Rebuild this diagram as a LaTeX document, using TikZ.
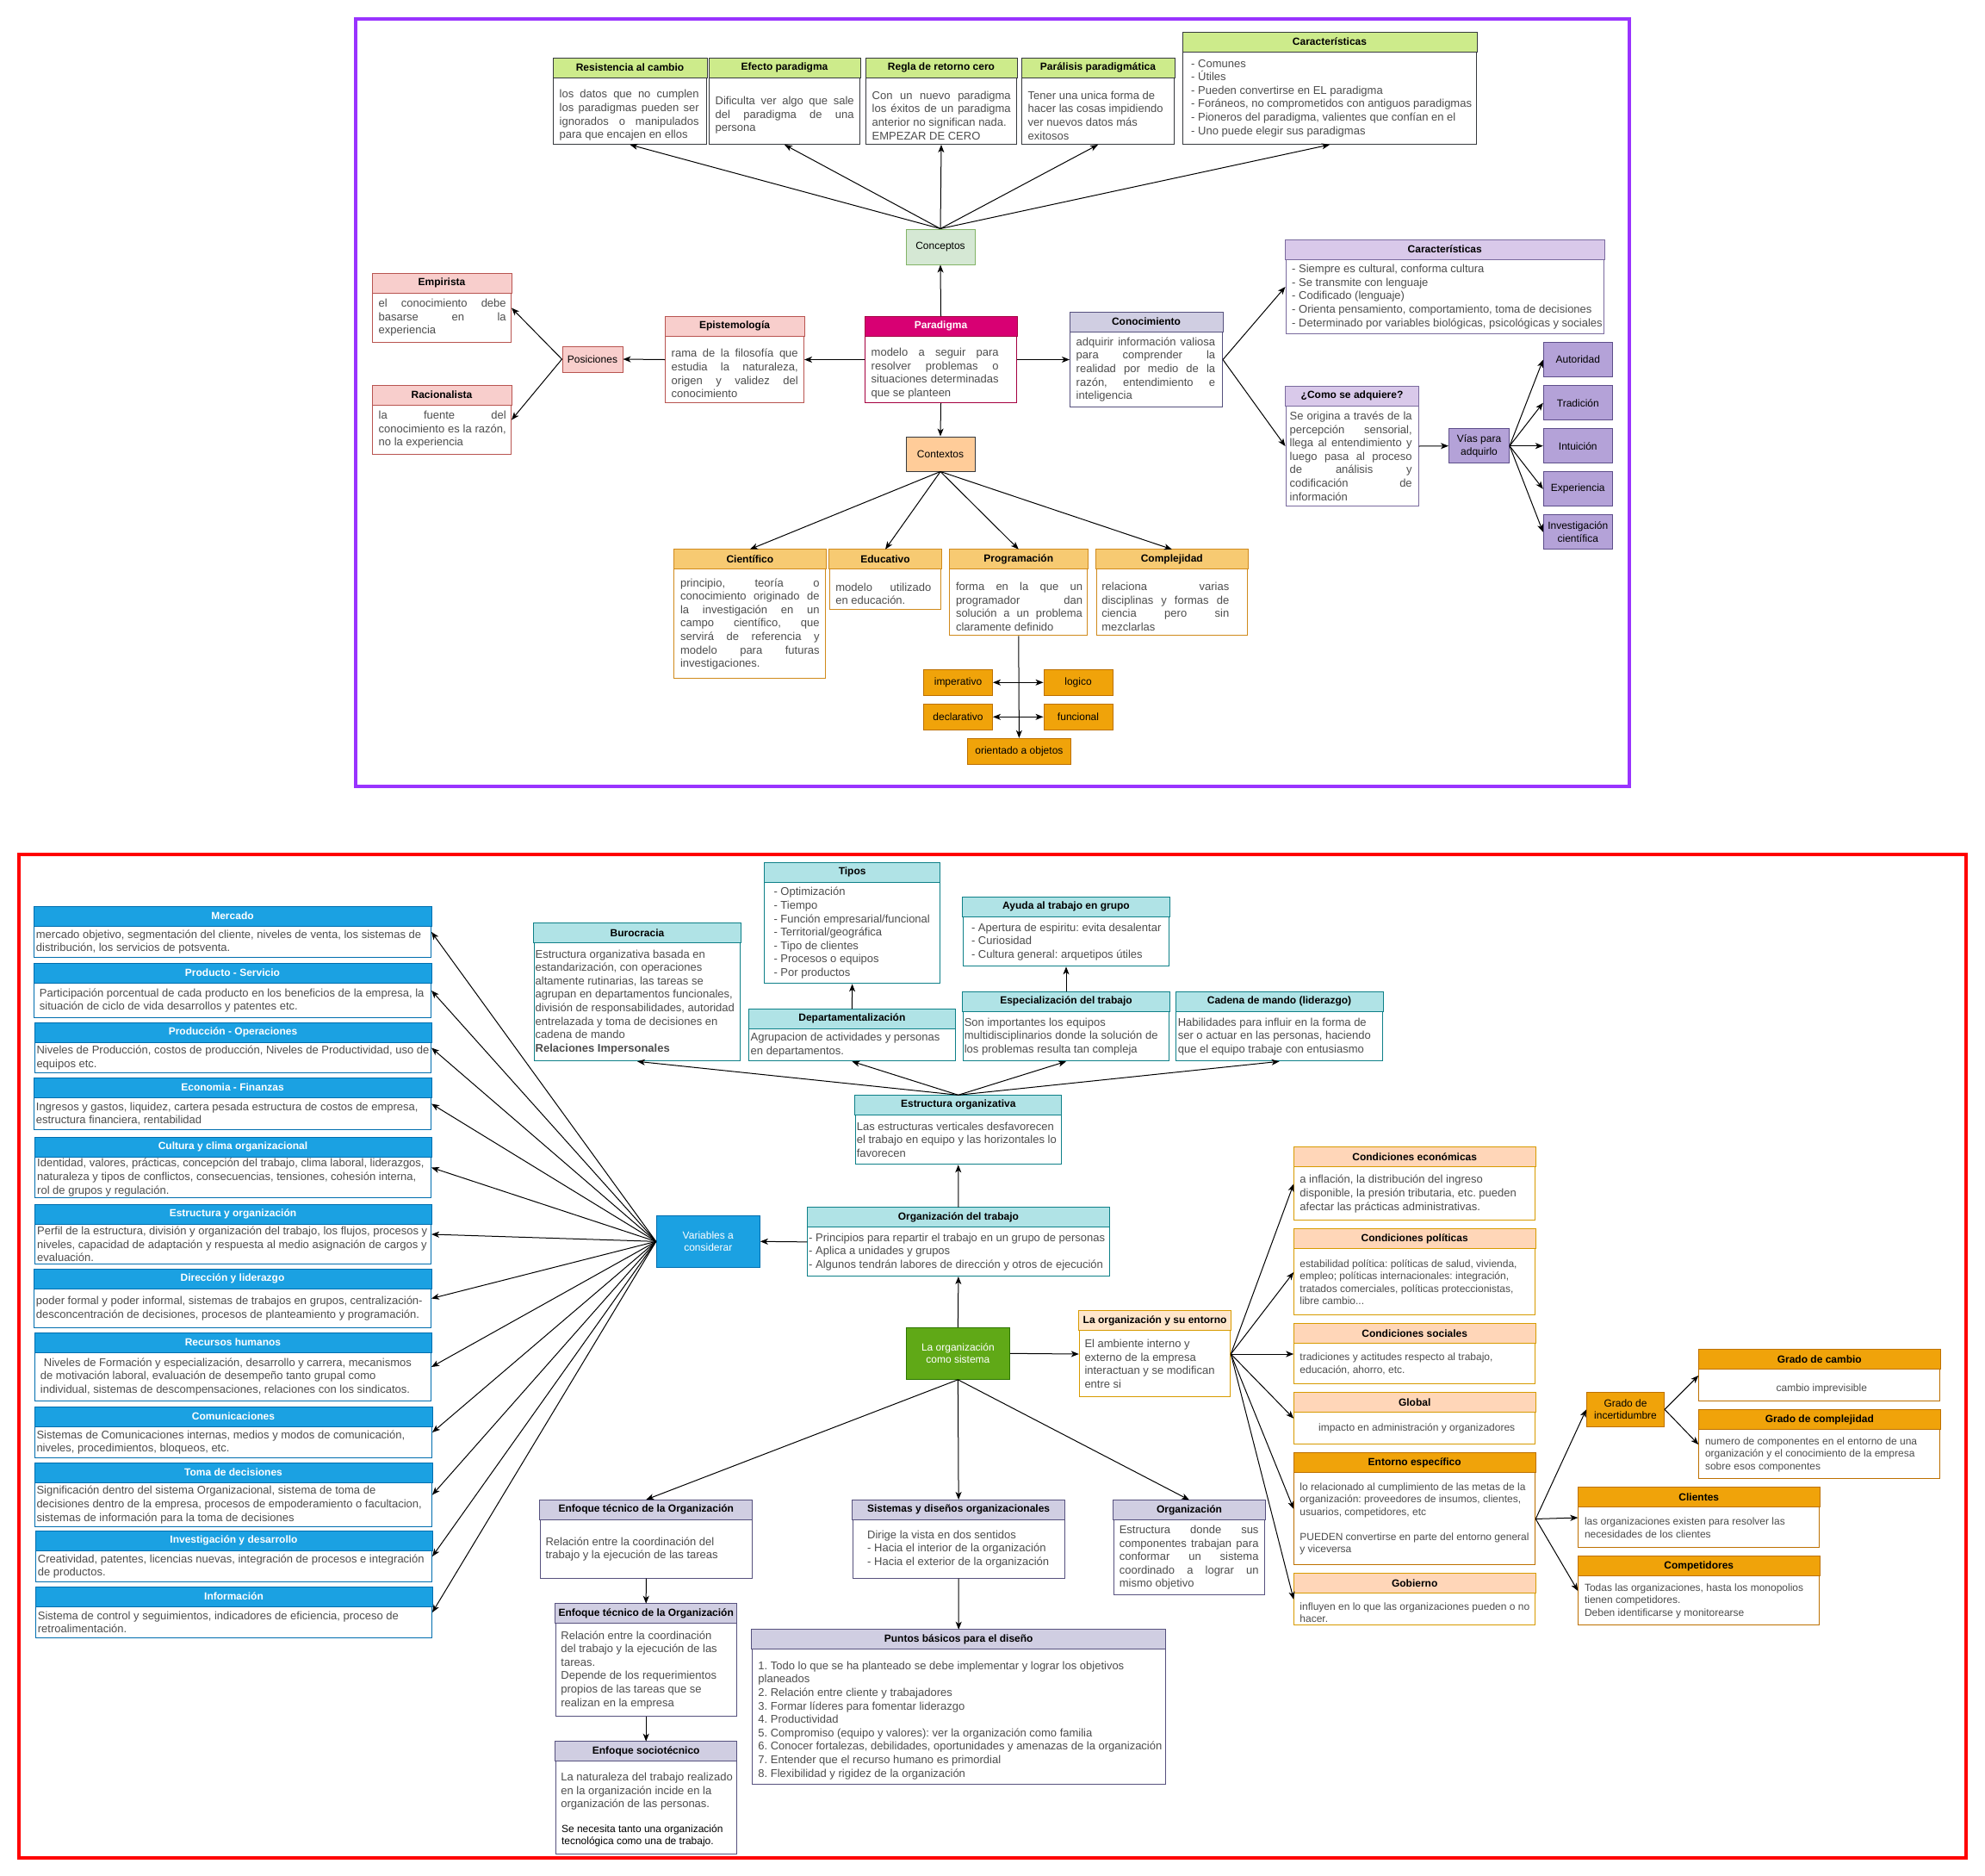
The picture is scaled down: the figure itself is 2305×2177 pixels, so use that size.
\documentclass[tikz,border=0pt]{standalone}
\usepackage{fontspec}
\setmainfont{Liberation Sans}
\usetikzlibrary{calc,arrows.meta}

\definecolor{bodygray}{HTML}{4D4D4D}
\definecolor{limeHead}{HTML}{CDEB8B}
\definecolor{darkLine}{HTML}{36393D}
\definecolor{roseHead}{HTML}{F8CECC}
\definecolor{roseLine}{HTML}{B85450}
\definecolor{magHead}{HTML}{D80073}
\definecolor{magLine}{HTML}{A50040}
\definecolor{slateHead}{HTML}{D0CEE2}
\definecolor{slateLine}{HTML}{56517E}
\definecolor{lilacHead}{HTML}{D9C9EA}
\definecolor{lilacLine}{HTML}{7A6A9E}
\definecolor{violetFill}{HTML}{B4A2D8}
\definecolor{violetLine}{HTML}{5D4E8A}
\definecolor{goldHead}{HTML}{F7CA72}
\definecolor{goldLine}{HTML}{D08A1C}
\definecolor{amberFill}{HTML}{F0A30A}
\definecolor{amberLine}{HTML}{BD7000}
\definecolor{peachHead}{HTML}{FFD6B8}
\definecolor{creamHead}{HTML}{FFE6CC}
\definecolor{orangeLine}{HTML}{D79B00}
\definecolor{blueFill}{HTML}{1BA1E2}
\definecolor{blueLine}{HTML}{006EAF}
\definecolor{tealHead}{HTML}{B0E3E6}
\definecolor{tealLine}{HTML}{0E8088}
\definecolor{mintFill}{HTML}{D5E8D4}
\definecolor{mintLine}{HTML}{82B366}
\definecolor{apricot}{HTML}{FFCC99}
\definecolor{leafFill}{HTML}{60A917}
\definecolor{leafLine}{HTML}{2D7600}
\definecolor{frameTop}{HTML}{9933FF}
\definecolor{frameBot}{HTML}{FF0000}

\tikzset{
  every node/.style={font=\fontsize{13}{15.6}\selectfont},
  tbframe/.style={draw, fill=white, inner sep=0pt, line width=1pt},
  tbtitle/.style={font=\bfseries\fontsize{12}{14}\selectfont, inner sep=0pt},
  tbbody/.style={inner sep=0pt, align=left, text=bodygray, anchor=west, xshift=7.5pt},
  jw/.code={\def\tbw{#1}},
  smalltext/.style={font=\fontsize{12}{14.4}\selectfont},
  sb/.style={line width=1pt, inner sep=0pt, align=center, font=\fontsize{12}{14.4}\selectfont},
  violet/.style={fill=violetFill, draw=violetLine},
  amberbox/.style={fill=amberFill, draw=amberLine},
  bluebox/.style={fill=blueFill, draw=blueLine, text=white},
  leafbox/.style={fill=leafFill, draw=leafLine, text=white},
  arr/.style={line width=1pt, -{Stealth[length=9pt, width=7pt, inset=2.5pt]}},
  dbl/.style={line width=1pt, {Stealth[length=9pt, width=7pt, inset=2.5pt]}-{Stealth[length=9pt, width=7pt, inset=2.5pt]}},
  lime frame/.style={draw=darkLine}, lime head/.style={fill=limeHead}, lime title/.style={},
  rose frame/.style={draw=roseLine}, rose head/.style={fill=roseHead}, rose title/.style={},
  mag frame/.style={draw=magLine}, mag head/.style={fill=magHead}, mag title/.style={text=white},
  slate frame/.style={draw=slateLine}, slate head/.style={fill=slateHead}, slate title/.style={},
  lilac frame/.style={draw=lilacLine}, lilac head/.style={fill=lilacHead}, lilac title/.style={},
  gold frame/.style={draw=goldLine}, gold head/.style={fill=goldHead}, gold title/.style={},
  peach frame/.style={draw=orangeLine}, peach head/.style={fill=peachHead}, peach title/.style={},
  cream frame/.style={draw=orangeLine}, cream head/.style={fill=creamHead}, cream title/.style={},
  amber frame/.style={draw=amberLine}, amber head/.style={fill=amberFill}, amber title/.style={},
  blue frame/.style={draw=blueLine}, blue head/.style={fill=blueFill}, blue title/.style={text=white},
  teal frame/.style={draw=tealLine}, teal head/.style={fill=tealHead}, teal title/.style={}
}

\newcommand\jl[1]{\makebox[\tbw pt][s]{#1}\\}
\newcommand\tbox[9][]{%
  \node[tbframe,#2 frame,minimum width=#6,minimum height=#7,anchor=north west] (#3) at (#4,#5) {};
  \draw[line width=1pt,#2 frame,#2 head] (#3.north west) rectangle ($(#3.north east)+(0,23)$);
  \node[tbtitle,#2 title] (#3-t) at ($(#3.north)+(0,11.5)$) {#8};
  \pgfmathsetmacro\tbw{#6-15}%
  \node[tbbody,#1] (#3-x) at ($(#3.west)+(0,11.5)$) {#9};
}

\begin{document}
\frenchspacing
\begin{tikzpicture}[x=1pt,y=-1pt]
  \fill[white] (0,0) rectangle (2305,2177);
  \useasboundingbox (0,0) rectangle (2305,2177);
  \draw[frameTop, line width=4pt] (413,22) rectangle (1892,913);
  \draw[frameBot, line width=4pt] (22,992) rectangle (2283,2157);

  \tbox[jw=162,yshift=-5pt]{lime}{res}{642}{67}{178}{100}{Resistencia al cambio}{\jl{los datos que no cumplen}\jl{los paradigmas pueden ser}\jl{ignorados o manipulados}para que encajen en ellos}
  \tbox[jw=161,yshift=-5pt]{lime}{efe}{823}{67}{175}{100}{Efecto paradigma}{\jl{Dificulta ver algo que sale}\jl{del paradigma de una}persona}
  \tbox[jw=161,yshift=-5pt]{lime}{reg}{1005}{67}{175}{100}{Regla de retorno cero}{\jl{Con un nuevo paradigma}\jl{los éxitos de un paradigma}anterior no significan nada.\\EMPEZAR DE CERO}
  \tbox[yshift=-5pt]{lime}{par}{1186}{67}{177}{100}{Parálisis paradigmática}{Tener una unica forma de\\hacer las cosas impidiendo\\ver nuevos datos más\\exitosos}
  \tbox[xshift=2.5pt]{lime}{carg}{1373}{37}{341}{130}{Características}{- Comunes\\- Útiles\\- Pueden convertirse en EL paradigma\\- Foráneos, no comprometidos con antiguos paradigmas\\- Pioneros del paradigma, valientes que confían en el\\- Uno puede elegir sus paradigmas}
  \node[sb,fill=mintFill,draw=mintLine,minimum width=80,minimum height=41] (concep) at (1092,286.5) {Conceptos};

  \tbox[jw=148,yshift=-4.5pt]{mag}{parad}{1004}{367}{176}{100}{Paradigma}{\jl{modelo a seguir para}\jl{resolver problemas o}\jl{situaciones determinadas}que se planteen}
  \tbox[jw=147,yshift=-4.5pt]{rose}{epis}{772}{367}{161}{100}{Epistemología}{\jl{rama de la filosofía que}\jl{estudia la naturaleza,}\jl{origen y validez del}conocimiento}
  \node[sb,fill=roseHead,draw=roseLine,minimum width=70,minimum height=30] (posic) at (688,417) {Posiciones};
  \tbox[jw=148]{rose}{empi}{432}{317}{161}{80}{Empirista}{\jl{el conocimiento debe}\jl{basarse en la}experiencia}
  \tbox[jw=148]{rose}{raci}{432}{447}{161}{80}{Racionalista}{\jl{la fuente del}\jl{conocimiento es la razón,}no la experiencia}

  \tbox[jw=161.5]{slate}{cono}{1242}{362}{177}{110}{Conocimiento}{\jl{adquirir información valiosa}\jl{para comprender la}\jl{realidad por medio de la}\jl{razón, entendimiento e}inteligencia}
  \tbox{lilac}{carp}{1492.5}{278}{369.5}{109}{Características}{- Siempre es cultural, conforma cultura\\- Se transmite con lenguaje\\- Codificado (lenguaje)\\- Orienta pensamiento, comportamiento, toma de decisiones\\- Determinado por variables biológicas, psicológicas y sociales}
  \tbox[jw=142,xshift=-2.5pt]{lilac}{como}{1492.5}{448}{154}{139}{¿Como se adquiere?}{\jl{Se origina a través de la}\jl{percepción sensorial,}\jl{llega al entendimiento y}\jl{luego pasa al proceso}\jl{de análisis y}\jl{codificación de}información}
  \node[sb,violet,minimum width=70,minimum height=40] (vias) at (1717.5,517.7) {Vías para\\adquirlo};
  \node[sb,violet,minimum width=80,minimum height=40] (autor) at (1832.3,417.7) {Autoridad};
  \node[sb,violet,minimum width=80,minimum height=40] (trad) at (1832.3,467.7) {Tradición};
  \node[sb,violet,minimum width=80,minimum height=40] (intu) at (1832.3,517.7) {Intuición};
  \node[sb,violet,minimum width=80,minimum height=40] (expe) at (1832.3,567.7) {Experiencia};
  \node[sb,violet,minimum width=80,minimum height=40] (icien) at (1832.3,617.7) {Investigación\\científica};

  \node[sb,fill=apricot,draw=darkLine,minimum width=80,minimum height=40] (contx) at (1092,527) {Contextos};
  \tbox[jw=161.5]{gold}{cien}{782.4}{637.7}{176}{149.6}{Científico}{\jl{principio, teoría o}\jl{conocimiento originado de}\jl{la investigación en un}\jl{campo científico, que}\jl{servirá de referencia y}\jl{modelo para futuras}investigaciones.}
  \tbox[jw=111,yshift=-5pt]{gold}{educ}{962.7}{637.7}{129.7}{69.6}{Educativo}{\jl{modelo utilizado}en educación.}
  \tbox[jw=147,yshift=-5pt]{gold}{prog}{1102.3}{637.7}{160}{99.6}{Programación}{\jl{forma en la que un}\jl{programador dan}\jl{solución a un problema}claramente definido}
  \tbox[jw=148,xshift=-1pt,yshift=-5pt]{gold}{comp}{1272.6}{637.7}{175.4}{99.6}{Complejidad}{\jl{relaciona varias}\jl{disciplinas y formas de}\jl{ciencia pero sin}mezclarlas}
  \node[sb,amberbox,minimum width=80,minimum height=30] (imper) at (1112.5,792.3) {imperativo};
  \node[sb,amberbox,minimum width=80,minimum height=30] (logic) at (1252,792.3) {logico};
  \node[sb,amberbox,minimum width=80,minimum height=30] (decl) at (1112.5,832.3) {declarativo};
  \node[sb,amberbox,minimum width=80,minimum height=30] (func) at (1252,832.3) {funcional};
  \node[sb,amberbox,minimum width=120,minimum height=30] (orient) at (1183.4,872.3) {orientado a objetos};

  \draw[arr] (concep.north) -- (res.south);
  \draw[arr] (concep.north) -- (efe.south);
  \draw[arr] (concep.north) -- (reg.south);
  \draw[arr] (concep.north) -- (par.south);
  \draw[arr] (concep.north) -- (carg.south);
  \draw[arr] (parad.north) -- (concep.south);
  \draw[arr] (parad.west) -- (epis.east);
  \draw[arr] (epis.west) -- (posic.east);
  \draw[arr] (posic.west) -- (empi.east);
  \draw[arr] (posic.west) -- (raci.east);
  \draw[arr] (parad.east) -- (cono.west);
  \draw[arr] (cono.east) -- (carp.west);
  \draw[arr] (cono.east) -- (como.west);
  \draw[arr] (como.east) -- (vias.west);
  \draw[arr] (vias.east) -- (autor.west);
  \draw[arr] (vias.east) -- (trad.west);
  \draw[arr] (vias.east) -- (intu.west);
  \draw[arr] (vias.east) -- (expe.west);
  \draw[arr] (vias.east) -- (icien.west);
  \draw[arr] (parad.south) -- (contx.north);
  \draw[arr] (contx.south) -- (cien.north);
  \draw[arr] (contx.south) -- (educ.north);
  \draw[arr] (contx.south) -- (prog.north);
  \draw[arr] (contx.south) -- (comp.north);
  \draw[arr] (prog.south) -- (orient.north);
  \draw[dbl] (imper) -- (logic);
  \draw[dbl] (decl) -- (func);

  \tbox[xshift=-4.8pt]{blue}{merc}{39}{1052}{461}{59}{Mercado}{mercado objetivo, segmentación del cliente, niveles de venta, los sistemas de\\distribución, los servicios de potsventa.}
  \tbox[xshift=-0.8pt]{blue}{prod}{39}{1118}{461}{63}{Producto - Servicio}{Participación porcentual de cada producto en los beneficios de la empresa, la\\situación de ciclo de vida desarrollos y patentes etc.}
  \tbox[xshift=-5.2pt]{blue}{prodop}{40}{1187}{460}{58}{Producción - Operaciones}{Niveles de Producción, costos de producción, Niveles de Productividad, uso de\\equipos etc.}
  \tbox[xshift=-4.8pt]{blue}{econ}{39}{1251}{461}{60}{Economia - Finanzas}{Ingresos y gastos, liquidez, cartera pesada estructura de costos de empresa,\\estructura financiera, rentabilidad}
  \tbox[xshift=-4.5pt]{blue}{cult}{40}{1320}{460}{70}{Cultura y clima organizacional}{Identidad, valores, prácticas, concepción del trabajo, clima laboral, liderazgos,\\naturaleza y tipos de conflictos, consecuencias, tensiones, cohesión interna,\\rol de grupos y regulación.}
  \tbox[xshift=-4.5pt]{blue}{estr}{40}{1398}{460}{69}{Estructura y organización}{Perfil de la estructura, división y organización del trabajo, los flujos, procesos y\\niveles, capacidad de adaptación y respuesta al medio asignación de cargos y\\evaluación.}
  \tbox[xshift=-4.8pt]{blue}{dire}{39}{1473}{461}{68}{Dirección y liderazgo}{poder formal y poder informal, sistemas de trabajos en grupos, centralización-\\desconcentración de decisiones, procesos de planteamiento y programación.}
  \tbox[xshift=-0.8pt]{blue}{rrhh}{40}{1547}{460}{79}{Recursos humanos}{\hspace*{4pt}Niveles de Formación y especialización, desarrollo y carrera, mecanismos\\de motivación laboral, evaluación de desempeño tanto grupal como\\individual, sistemas de descompensaciones, relaciones con los sindicatos.}
  \tbox[xshift=-5.2pt]{blue}{comu}{40}{1633}{461}{59}{Comunicaciones}{Sistemas de Comunicaciones internas, medios y modos de comunicación,\\niveles, procedimientos, bloqueos, etc.}
  \tbox[xshift=-5.2pt]{blue}{toma}{40}{1698}{461}{74}{Toma de decisiones}{Significación dentro del sistema Organizacional, sistema de toma de\\decisiones dentro de la empresa, procesos de empoderamiento o facultacion,\\sistemas de información para la toma de decisiones}
  \tbox[xshift=-4.8pt]{blue}{idesa}{41}{1777}{460}{59}{Investigación y desarrollo}{Creatividad, patentes, licencias nuevas, integración de procesos e integración\\de productos.}
  \tbox[xshift=-4.8pt]{blue}{info}{41}{1842}{460}{59}{Información}{Sistema de control y seguimientos, indicadores de eficiencia, proceso de\\retroalimentación.}
  \node[sb,bluebox,minimum width=120,minimum height=60] (vars) at (822.3,1441.3) {Variables a\\considerar};

  \tbox[xshift=3.4pt]{teal}{tipos}{887.4}{1001.3}{203.5}{140}{Tipos}{- Optimización\\- Tiempo\\- Función empresarial/funcional\\- Territorial/geográfica\\- Tipo de clientes\\- Procesos o equipos\\- Por productos}
  \tbox[xshift=2.7pt]{teal}{ayuda}{1117.6}{1041.3}{239.8}{80}{Ayuda al trabajo en grupo}{- Apertura de espiritu: evita desalentar\\- Curiosidad\\- Cultura general: arquetipos útiles}
  \tbox[xshift=-5.6pt]{teal}{buro}{619.6}{1071.3}{239.8}{160}{Burocracia}{Estructura organizativa basada en\\estandarización, con operaciones\\altamente rutinarias, las tareas se\\agrupan en departamentos funcionales,\\división de responsabilidades, autoridad\\entrelazada y toma de decisiones en\\cadena de mando\\\textbf{Relaciones Impersonales}}
  \tbox[xshift=-5pt]{teal}{dept}{869}{1171.3}{239.7}{60}{Departamentalización}{Agrupacion de actividades y personas\\en departamentos.}
  \tbox[xshift=-5.5pt]{teal}{espe}{1117.6}{1151.3}{239.8}{80}{Especialización del trabajo}{Son importantes los equipos\\multidisciplinarios donde la solución de\\los problemas resulta tan compleja}
  \tbox[xshift=-4.9pt]{teal}{cade}{1365}{1151.3}{240}{80}{Cadena de mando (liderazgo)}{Habilidades para influir en la forma de\\ser o actuar en las personas, haciendo\\que el equipo trabaje con entusiasmo}
  \tbox[xshift=-5.6pt]{teal}{estro}{992.7}{1271.3}{239.1}{80}{Estructura organizativa}{Las estructuras verticales desfavorecen\\el trabajo en equipo y las horizontales lo\\favorecen}
  \tbox[xshift=-5.8pt]{teal}{orgt}{937.3}{1401.7}{350.2}{79.3}{Organización del trabajo}{- Principios para repartir el trabajo en un grupo de personas\\- Aplica a unidades y grupos\\- Algunos tendrán labores de dirección y otros de ejecución}
  \node[sb,leafbox,minimum width=120,minimum height=60] (sist) at (1112.4,1571.3) {La organización\\como sistema};

  \tbox[xshift=-1pt]{cream}{ent}{1252.8}{1521.8}{175.5}{99.4}{La organización y su entorno}{El ambiente interno y\\externo de la empresa\\interactuan y se modifican\\entre si}
  \tbox[xshift=-0.5pt]{peach}{cecon}{1502.2}{1331.8}{280}{84.4}{Condiciones económicas}{a inflación, la distribución del ingreso\\disponible, la presión tributaria, etc. pueden\\afectar las prácticas administrativas.}
  \tbox[smalltext,xshift=-0.5pt]{peach}{cpol}{1502.2}{1426.8}{280}{99.4}{Condiciones políticas}{estabilidad política: políticas de salud, vivienda,\\empleo; políticas internacionales: integración,\\tratados comerciales, políticas proteccionistas,\\libre cambio...}
  \tbox[smalltext,xshift=-0.5pt]{peach}{csoc}{1502.2}{1536.8}{280}{69.4}{Condiciones sociales}{tradiciones y actitudes respecto al trabajo,\\educación, ahorro, etc.}
  \tbox[smalltext,align=center,anchor=center,xshift=135.5pt]{peach}{glob}{1502.2}{1616.5}{280}{59.5}{Global}{impacto en administración y organizadores}
  \tbox[smalltext,xshift=-0.5pt]{amber}{eesp}{1502.2}{1686.6}{280}{129.7}{Entorno específico}{lo relacionado al cumplimiento de las metas de la\\organización: proveedores de insumos, clientes,\\usuarios, competidores, etc\\[14.4pt]PUEDEN convertirse en parte del entorno general\\y viceversa}
  \tbox[smalltext,xshift=-0.5pt,yshift=-4pt]{peach}{gobi}{1502.2}{1826.6}{280}{59.5}{Gobierno}{influyen en lo que las organizaciones pueden o no\\hacer.}
  \node[sb,amberbox,minimum width=90,minimum height=40] (gincert) at (1887.5,1636.3) {Grado de\\incertidumbre};
  \tbox[smalltext,align=center,anchor=center,xshift=135.5pt,yshift=-4pt]{amber}{gcam}{1972.3}{1566.7}{280}{59.6}{Grado de cambio}{cambio imprevisible}
  \tbox[smalltext]{amber}{gcom}{1972.3}{1636.7}{280}{79.6}{Grado de complejidad}{numero de componentes en el entorno de una\\organización y el conocimiento de la empresa\\sobre esos componentes}
  \tbox[smalltext]{amber}{clie}{1832.3}{1726.7}{280}{69.6}{Clientes}{las organizaciones existen para resolver las\\necesidades de los clientes}
  \tbox[smalltext]{amber}{compt}{1832.3}{1806.7}{280}{79.6}{Competidores}{Todas las organizaciones, hasta los monopolios\\tienen competidores.\\Deben identificarse y monitorearse}

  \tbox[xshift=-1pt]{slate}{enf1}{626.8}{1741}{246}{90.7}{Enfoque técnico de la Organización}{Relación entre la coordinación del\\trabajo y la ejecución de las tareas}
  \tbox[xshift=-1pt]{slate}{enf2}{644.7}{1861.7}{210}{130}{Enfoque técnico de la Organización}{Relación entre la coordinación\\del trabajo y la ejecución de las\\tareas.\\Depende de los requerimientos\\propios de las tareas que se\\realizan en la empresa}
  \tbox[xshift=-1pt,yshift=18.7pt]{slate}{soct}{644.7}{2021.7}{210}{130}{Enfoque sociotécnico}{La naturaleza del trabajo realizado\\en la organización incide en la\\organización de las personas.}
  \node[tbbody,text=black,font=\fontsize{12}{14}\selectfont] (soct-y) at (644.3,2131.3) {Se necesita tanto una organización\\tecnológica como una de trabajo.};
  \tbox[xshift=9.9pt]{slate}{sisd}{989.6}{1741}{246}{90.7}{Sistemas y diseños organizacionales}{Dirige la vista en dos sentidos\\- Hacia el interior de la organización\\- Hacia el exterior de la organización}
  \tbox[jw=161.7,xshift=-0.6pt]{slate}{orgz}{1292.7}{1741.4}{175.6}{109.7}{Organización}{\jl{Estructura donde sus}\jl{componentes trabajan para}\jl{conformar un sistema}\jl{coordinado a lograr un}mismo objetivo}
  \tbox[yshift=-4pt]{slate}{punt}{872.7}{1891.7}{480}{179.3}{Puntos básicos para el diseño}{1. Todo lo que se ha planteado se debe implementar y lograr los objetivos\\planeados\\2. Relación entre cliente y trabajadores\\3. Formar líderes para fomentar liderazgo\\4. Productividad\\5. Compromiso (equipo y valores): ver la organización como familia\\6. Conocer fortalezas, debilidades, oportunidades y amenazas de la organización\\7. Entender que el recurso humano es primordial\\8. Flexibilidad y rigidez de la organización}

  \draw[arr] (vars.west) -- (merc.east);
  \draw[arr] (vars.west) -- (prod.east);
  \draw[arr] (vars.west) -- (prodop.east);
  \draw[arr] (vars.west) -- (econ.east);
  \draw[arr] (vars.west) -- (cult.east);
  \draw[arr] (vars.west) -- (estr.east);
  \draw[arr] (vars.west) -- (dire.east);
  \draw[arr] (vars.west) -- (rrhh.east);
  \draw[arr] (vars.west) -- (comu.east);
  \draw[arr] (vars.west) -- (toma.east);
  \draw[arr] (vars.west) -- (idesa.east);
  \draw[arr] (vars.west) -- (info.east);
  \draw[arr] (orgt.west) -- (vars.east);
  \draw[arr] (orgt.north) -- (estro.south);
  \draw[arr] (estro.north) -- (buro.south);
  \draw[arr] (estro.north) -- (dept.south);
  \draw[arr] (estro.north) -- (espe.south);
  \draw[arr] (estro.north) -- (cade.south);
  \draw[arr] (dept.north) -- (tipos.south);
  \draw[arr] (espe.north) -- (ayuda.south);
  \draw[arr] (sist.north) -- (orgt.south);
  \draw[arr] (sist.east) -- (ent.west);
  \draw[arr] (sist.south) -- (enf1.north);
  \draw[arr] (sist.south) -- (sisd.north);
  \draw[arr] (sist.south) -- (orgz.north);
  \draw[arr] (enf1.south) -- (enf2.north);
  \draw[arr] (enf2.south) -- (soct.north);
  \draw[arr] (sisd.south) -- (punt.north);
  \draw[arr] (ent.east) -- (cecon.west);
  \draw[arr] (ent.east) -- (cpol.west);
  \draw[arr] (ent.east) -- (csoc.west);
  \draw[arr] (ent.east) -- (glob.west);
  \draw[arr] (ent.east) -- (eesp.west);
  \draw[arr] (ent.east) -- (gobi.west);
  \coordinate (eo) at ($(eesp.east)+(0,11.5)$);
  \draw[arr] (eo) -- (gincert.west);
  \draw[arr] (eo) -- (clie.west);
  \draw[arr] (eo) -- (compt.west);
  \draw[arr] (gincert.east) -- (gcam.west);
  \draw[arr] (gincert.east) -- (gcom.west);
\end{tikzpicture}
\end{document}
